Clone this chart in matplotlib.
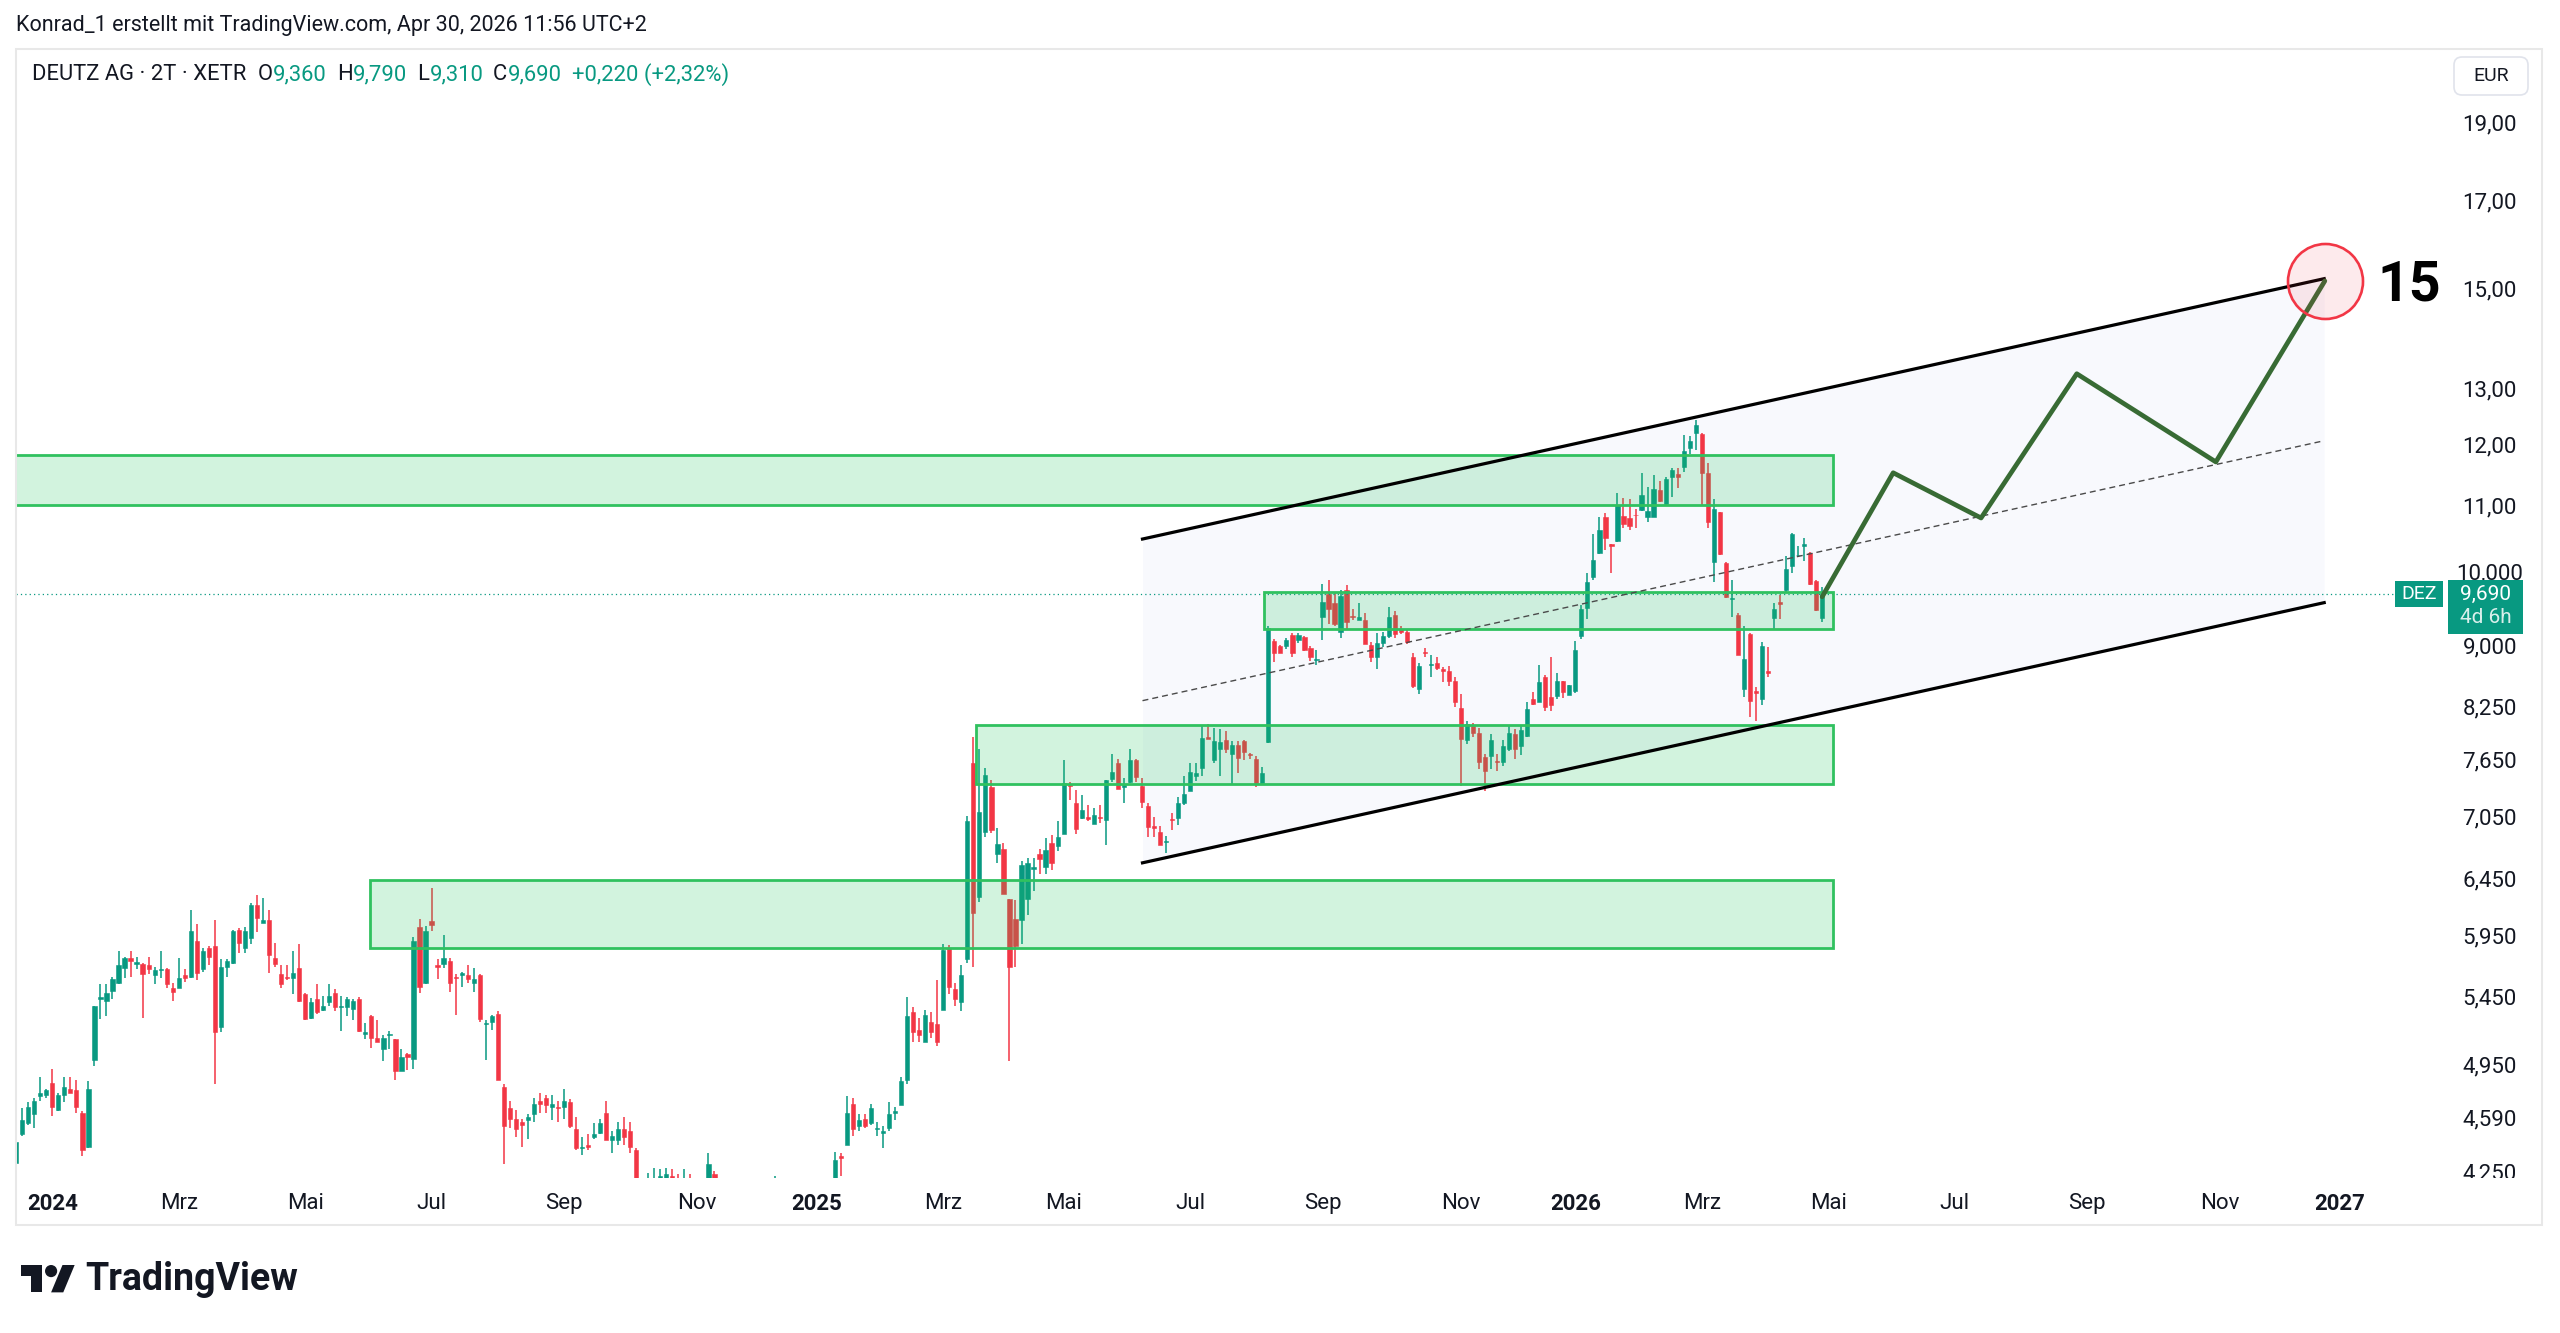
import numpy as np
import pandas as pd
import matplotlib
matplotlib.use("Agg")
import matplotlib.pyplot as plt
from matplotlib.patches import Rectangle, Polygon, Circle, FancyBboxPatch
from matplotlib.transforms import (blended_transform_factory, ScaledTranslation,
                                   IdentityTransform, Bbox, TransformedBbox)
from matplotlib.ticker import NullLocator

plt.rcParams['font.family'] = ['Roboto', 'DejaVu Sans']

UP = '#089981'
DOWN = '#F23645'
INK = '#131722'

# DEUTZ AG, 2-day candles. x = bar number, bar 0 = first bar of 2024
first_bar = -6
opens = [
    4.30, 4.48, 4.55, 4.61, 4.73, 4.74, 4.82, 4.64, 4.74, 4.78,
    4.77, 4.62, 4.40, 4.98, 5.43, 5.42, 5.50, 5.56, 5.68, 5.76,
    5.71, 5.71, 5.70, 5.62, 5.66, 5.67, 5.52, 5.52, 5.62, 5.61,
    5.90, 5.67, 5.84, 5.86, 5.22, 5.69, 5.72, 6.00, 5.84, 5.93,
    6.21, 6.06, 6.08, 5.76, 5.63, 5.61, 5.60, 5.68, 5.47, 5.29,
    5.43, 5.35, 5.41, 5.48, 5.37, 5.37, 5.36, 5.43, 5.17, 5.30,
    5.14, 5.06, 5.16, 5.13, 4.90, 5.02, 4.99, 6.02, 5.56, 6.07,
    5.70, 5.71, 5.74, 5.61, 5.62, 5.62, 5.56, 5.62, 5.24, 5.26,
    5.32, 4.79, 4.65, 4.58, 4.56, 4.57, 4.61, 4.70, 4.72, 4.66,
    4.66, 4.66, 4.69, 4.51, 4.39, 4.41, 4.46, 4.49, 4.62, 4.44,
    4.44, 4.51, 4.50, 4.38, 4.05, 3.98, 4.10, 4.12, 4.14, 4.22,
    4.18, 4.10, 4.21, 4.14, 4.08, 4.05, 4.23, 4.15, 4.05, 3.98,
    3.92, 3.95, 3.88, 3.93, 4.02, 3.97, 4.08, 4.12, 4.02, 3.96,
    3.90, 3.94, 3.91, 3.97, 4.05, 4.01,
    4.15, 4.34, 4.41, 4.68, 4.53, 4.58, 4.55, 4.51, 4.49, 4.52,
    4.62, 4.67, 4.84, 5.33, 5.20, 5.11, 5.26, 5.24, 5.35, 5.84,
    5.51, 5.41, 5.75, 7.61, 6.29, 6.90, 7.36, 6.68, 6.73, 6.27,
    6.09, 6.08, 6.27, 6.54, 6.68, 6.56, 6.79, 6.76, 6.88, 7.38,
    7.19, 7.04, 7.05, 6.98, 7.05, 7.02, 7.44, 7.61, 7.35, 7.41,
    7.64, 7.37, 7.16, 6.96, 6.90, 6.80, 7.03, 7.04, 7.19, 7.31,
    7.47, 7.56, 7.90, 7.64, 7.76, 7.86, 7.71, 7.81, 7.85, 7.71,
    7.65, 7.40, 7.84,
    9.06, 9.00, 8.99, 9.14, 9.07, 9.11, 8.97, 8.82, 9.38, 9.69,
    9.56, 9.18, 9.75, 9.39, 9.34, 9.34, 9.01, 8.86, 9.03, 9.12,
    9.40, 9.22, 9.18, 8.86, 8.46, 8.92, 8.75, 8.78, 8.70, 8.68,
    8.56, 8.23, 7.86, 8.02, 7.94, 7.68, 7.69, 7.63, 7.62, 7.76,
    7.93, 7.80, 7.91, 8.34, 8.31, 8.61, 8.36, 8.37, 8.56, 8.39,
    8.43, 9.12, 9.50, 9.93,
    10.28, 10.81, 10.41, 10.45, 10.83, 10.80, 10.85, 10.93, 10.82, 10.82,
    11.24, 11.01, 11.45, 11.50, 11.62, 11.93, 12.19, 12.18, 11.52, 10.14,
    10.89, 10.13, 9.62, 9.40, 8.46, 9.15, 8.43, 8.34, 8.68, 9.36,
    9.58, 9.74, 10.09, 10.24, 10.37, 10.27, 9.87, 9.36,
]
highs = [
    4.46, 4.65, 4.69, 4.72, 4.86, 4.78, 4.92, 4.75, 4.86, 4.86,
    4.84, 4.63, 4.83, 5.38, 5.55, 5.55, 5.61, 5.82, 5.77, 5.82,
    5.77, 5.72, 5.77, 5.69, 5.82, 5.68, 5.56, 5.76, 5.67, 6.17,
    6.05, 5.84, 5.86, 6.08, 5.75, 5.75, 6.00, 6.01, 6.02, 6.23,
    6.30, 6.28, 6.17, 5.89, 5.70, 5.70, 5.82, 5.88, 5.48, 5.44,
    5.55, 5.46, 5.55, 5.51, 5.46, 5.45, 5.43, 5.45, 5.25, 5.31,
    5.27, 5.16, 5.19, 5.13, 5.06, 5.03, 5.94, 6.09, 6.03, 6.37,
    5.75, 5.95, 5.76, 5.63, 5.65, 5.70, 5.68, 5.63, 5.27, 5.31,
    5.34, 4.81, 4.70, 4.64, 4.58, 4.61, 4.72, 4.75, 4.74, 4.74,
    4.70, 4.78, 4.71, 4.59, 4.46, 4.48, 4.55, 4.58, 4.70, 4.50,
    4.56, 4.59, 4.56, 4.39, 4.15, 4.24, 4.27, 4.26, 4.27, 4.26,
    4.23, 4.26, 4.23, 4.19, 4.15, 4.36, 4.25, 4.18, 4.08, 4.02,
    4.00, 3.98, 3.97, 4.06, 4.05, 4.12, 4.22, 4.15, 4.05, 3.99,
    3.98, 3.97, 4.00, 4.09, 4.10, 4.18,
    4.37, 4.36, 4.73, 4.72, 4.61, 4.61, 4.68, 4.56, 4.53, 4.69,
    4.66, 4.86, 5.45, 5.37, 5.29, 5.35, 5.33, 5.58, 5.88, 5.87,
    5.56, 5.70, 7.06, 7.90, 7.76, 7.56, 7.43, 6.94, 6.79, 6.27,
    6.26, 6.62, 6.65, 6.65, 6.73, 6.84, 6.87, 7.01, 7.64, 7.41,
    7.32, 7.27, 7.17, 7.14, 7.17, 7.43, 7.71, 7.66, 7.45, 7.76,
    7.65, 7.45, 7.19, 7.05, 6.96, 6.86, 7.09, 7.25, 7.47, 7.61,
    7.61, 8.02, 8.05, 8.00, 7.99, 7.97, 7.85, 7.85, 7.87, 7.72,
    7.69, 7.57, 9.25,
    9.09, 9.01, 9.10, 9.17, 9.17, 9.12, 8.99, 8.94, 9.83, 9.88,
    9.70, 9.75, 9.81, 9.49, 9.56, 9.43, 9.05, 9.16, 9.18, 9.51,
    9.45, 9.26, 9.22, 8.90, 8.78, 8.97, 8.88, 8.85, 8.73, 8.74,
    8.61, 8.40, 8.08, 8.06, 8.00, 7.71, 7.93, 7.71, 7.86, 8.03,
    7.99, 8.02, 8.31, 8.42, 8.76, 8.63, 8.86, 8.66, 8.56, 8.51,
    9.06, 9.54, 9.98, 10.55,
    10.82, 10.88, 10.41, 11.20, 11.11, 11.10, 10.94, 11.51, 11.29, 11.49,
    11.38, 11.45, 11.60, 11.60, 12.16, 12.14, 12.43, 12.19, 11.69, 11.09,
    10.90, 10.14, 9.88, 9.43, 9.25, 9.17, 8.48, 9.05, 8.98, 9.57,
    9.68, 10.23, 10.57, 10.37, 10.50, 10.29, 9.88, 9.79,
]
lows = [
    4.22, 4.47, 4.54, 4.52, 4.70, 4.72, 4.60, 4.63, 4.69, 4.75,
    4.62, 4.34, 4.39, 4.94, 5.28, 5.30, 5.43, 5.55, 5.60, 5.61,
    5.67, 5.29, 5.63, 5.55, 5.60, 5.52, 5.42, 5.52, 5.57, 5.60,
    5.58, 5.65, 5.70, 4.81, 5.18, 5.61, 5.71, 5.80, 5.80, 5.88,
    5.98, 6.06, 5.64, 5.69, 5.52, 5.58, 5.47, 5.41, 5.27, 5.28,
    5.32, 5.34, 5.38, 5.34, 5.19, 5.30, 5.27, 5.18, 5.13, 5.07,
    5.11, 4.97, 5.06, 4.84, 4.90, 4.91, 4.92, 5.48, 5.55, 5.99,
    5.59, 5.68, 5.49, 5.31, 5.53, 5.56, 5.49, 5.26, 4.98, 5.20,
    4.84, 4.29, 4.52, 4.46, 4.40, 4.45, 4.56, 4.62, 4.62, 4.57,
    4.56, 4.58, 4.52, 4.38, 4.35, 4.38, 4.45, 4.48, 4.44, 4.36,
    4.41, 4.41, 4.36, 4.00, 3.95, 3.95, 4.05, 4.08, 4.10, 4.10,
    4.08, 4.06, 4.10, 4.05, 4.00, 4.02, 4.10, 4.00, 3.92, 3.86,
    3.88, 3.84, 3.85, 3.90, 3.93, 3.95, 4.05, 3.98, 3.92, 3.85,
    3.86, 3.87, 3.89, 3.95, 3.97, 3.99,
    4.12, 4.22, 4.41, 4.47, 4.50, 4.52, 4.54, 4.47, 4.39, 4.50,
    4.57, 4.67, 4.81, 5.11, 5.11, 5.11, 5.14, 5.08, 5.35, 5.47,
    5.38, 5.34, 5.72, 5.69, 6.24, 6.85, 6.89, 6.60, 6.31, 4.97,
    5.69, 5.88, 6.13, 6.34, 6.50, 6.50, 6.53, 6.71, 6.88, 7.22,
    6.88, 7.03, 7.01, 6.98, 6.99, 6.77, 7.41, 7.33, 7.19, 7.40,
    7.41, 7.14, 6.85, 6.85, 6.77, 6.69, 6.92, 6.97, 7.17, 7.31,
    7.42, 7.47, 7.88, 7.61, 7.47, 7.72, 7.38, 7.50, 7.64, 7.65,
    7.36, 7.39, 7.83,
    8.79, 8.90, 8.96, 8.86, 9.04, 8.93, 8.81, 8.75, 9.07, 9.28,
    9.25, 9.10, 9.22, 9.34, 9.34, 9.02, 8.79, 8.71, 8.98, 9.10,
    9.10, 9.15, 9.02, 8.47, 8.40, 8.85, 8.60, 8.69, 8.55, 8.50,
    8.25, 7.37, 7.82, 7.90, 7.55, 7.31, 7.55, 7.53, 7.58, 7.74,
    7.66, 7.70, 7.90, 8.27, 8.30, 8.20, 8.20, 8.34, 8.35, 8.39,
    8.41, 9.08, 9.35, 9.88,
    10.26, 10.32, 9.99, 10.43, 10.64, 10.62, 10.65, 10.91, 10.74, 10.82,
    11.05, 10.98, 11.13, 11.28, 11.53, 11.84, 11.90, 11.00, 10.64, 9.86,
    10.25, 9.64, 9.37, 8.88, 8.36, 8.13, 8.08, 8.27, 8.60, 9.22,
    9.35, 9.71, 9.99, 10.23, 10.16, 9.82, 9.46, 9.31,
]
closes = [
    4.43, 4.57, 4.66, 4.70, 4.75, 4.77, 4.66, 4.74, 4.79, 4.75,
    4.66, 4.38, 4.78, 5.38, 5.45, 5.48, 5.59, 5.70, 5.76, 5.74,
    5.73, 5.63, 5.67, 5.66, 5.67, 5.55, 5.49, 5.60, 5.60, 5.99,
    5.64, 5.82, 5.77, 5.18, 5.69, 5.74, 5.99, 5.89, 5.99, 6.21,
    6.10, 6.08, 5.79, 5.71, 5.55, 5.60, 5.64, 5.42, 5.28, 5.41,
    5.33, 5.38, 5.46, 5.37, 5.38, 5.43, 5.42, 5.19, 5.18, 5.14,
    5.11, 5.14, 5.17, 4.90, 5.00, 5.00, 5.90, 5.53, 5.99, 6.04,
    5.69, 5.76, 5.56, 5.60, 5.64, 5.59, 5.59, 5.28, 5.25, 5.30,
    4.84, 4.53, 4.58, 4.51, 4.54, 4.59, 4.68, 4.68, 4.67, 4.68,
    4.65, 4.70, 4.53, 4.39, 4.40, 4.40, 4.48, 4.55, 4.44, 4.47,
    4.51, 4.46, 4.40, 4.05, 4.00, 4.12, 4.18, 4.22, 4.23, 4.15,
    4.12, 4.18, 4.14, 4.10, 4.04, 4.29, 4.15, 4.05, 3.98, 3.92,
    3.95, 3.88, 3.93, 4.02, 3.97, 4.08, 4.12, 4.02, 3.96, 3.90,
    3.94, 3.91, 3.97, 4.05, 4.01, 4.14,
    4.32, 4.33, 4.62, 4.51, 4.57, 4.53, 4.65, 4.52, 4.50, 4.61,
    4.63, 4.83, 5.30, 5.18, 5.16, 5.31, 5.18, 5.11, 5.83, 5.53,
    5.43, 5.62, 7.01, 6.14, 7.10, 7.48, 6.92, 6.78, 6.31, 5.69,
    5.86, 6.58, 6.60, 6.56, 6.64, 6.72, 6.60, 6.85, 7.40, 7.37,
    6.93, 7.12, 7.03, 7.07, 7.04, 7.43, 7.51, 7.33, 7.38, 7.64,
    7.46, 7.20, 6.95, 6.94, 6.77, 6.81, 7.02, 7.19, 7.28, 7.51,
    7.50, 7.89, 7.88, 7.85, 7.84, 7.76, 7.81, 7.67, 7.73, 7.70,
    7.40, 7.50, 9.23,
    8.90, 8.91, 9.07, 8.91, 9.14, 8.94, 8.85, 8.83, 9.58, 9.48,
    9.28, 9.66, 9.31, 9.37, 9.37, 9.02, 8.86, 9.03, 9.12, 9.38,
    9.15, 9.18, 9.05, 8.50, 8.74, 8.90, 8.77, 8.72, 8.68, 8.56,
    8.31, 7.88, 8.05, 7.94, 7.62, 7.53, 7.86, 7.62, 7.80, 7.95,
    7.76, 7.98, 8.22, 8.28, 8.54, 8.24, 8.27, 8.56, 8.42, 8.51,
    8.94, 9.48, 9.86, 10.17,
    10.62, 10.50, 10.37, 11.00, 10.71, 10.67, 10.84, 11.16, 10.91, 11.26,
    11.06, 11.42, 11.56, 11.45, 11.89, 12.06, 12.33, 11.51, 10.74, 10.94,
    10.26, 9.65, 9.63, 8.88, 8.83, 8.32, 8.41, 9.00, 8.66, 9.49,
    9.55, 10.04, 10.56, 10.25, 10.40, 9.83, 9.47, 9.69,
]

# drawings on the chart (bar number / price)
zone_lo = [11.00, 9.21, 7.39, 5.84]
zone_hi = [11.82, 9.72, 8.04, 6.44]
zone_start = [-30, 201.2, 153.4, 52.7]
zone_end = 295.8

channel_x = [181.1, 377.4]
channel_top = [10.48, 15.20]
channel_bot = [6.60, 9.57]
channel_mid = [8.32, 12.06]

proj_x = [294, 305.8, 320.4, 336.3, 359.4, 377.5]
proj_y = [9.65, 11.52, 10.80, 13.27, 11.70, 15.15]
target_label = '15'

last_price = 9.69
price_ticks = [19, 17, 15, 13, 12, 11, 10, 9, 8.25, 7.65, 7.05,
               6.45, 5.95, 5.45, 4.95, 4.59, 4.25]
price_labels = ['19,00', '17,00', '15,00', '13,00', '12,00', '11,00', '10,000',
                '9,000', '8,250', '7,650', '7,050', '6,450', '5,950', '5,450',
                '4,950', '4,590', '4,250']

month_names = {3: 'Mrz', 5: 'Mai', 7: 'Jul', 9: 'Sep', 11: 'Nov'}
holidays = ['2024-01-01', '2024-03-29', '2024-04-01', '2024-05-01', '2024-12-24',
            '2024-12-25', '2024-12-26', '2024-12-31', '2025-01-01', '2025-04-18',
            '2025-04-21', '2025-05-01', '2025-12-24', '2025-12-25', '2025-12-26',
            '2025-12-31', '2026-01-01', '2026-04-03', '2026-04-06', '2026-05-01',
            '2026-12-24', '2026-12-25', '2026-12-31', '2027-01-01']

# trading calendar -> 2-day bar numbers for the month labels
sessions = pd.bdate_range('2024-01-01', '2027-01-31')
sessions = sessions[~sessions.isin(pd.to_datetime(holidays))]
cal = pd.DataFrame({'date': sessions, 'bar': np.arange(len(sessions)) // 2})
firsts = cal.groupby([cal.date.dt.year, cal.date.dt.month])['bar'].first()
tick_pos, tick_lab, tick_bold = [], [], []
for (yr, mo), b in firsts.items():
    if mo == 1:
        tick_pos.append(b); tick_lab.append(str(yr)); tick_bold.append(True)
    elif mo in month_names:
        tick_pos.append(b); tick_lab.append(month_names[mo]); tick_bold.append(False)

W, H = 2560, 1333
fig = plt.figure(figsize=(W / 100, H / 100), dpi=100, facecolor='white')


def fx(px):
    return px / W


def fy(py):
    return 1 - py / H


ax = fig.add_axes([fx(16), fy(1178), fx(2444) - fx(16), fy(49) - fy(1178)])
ax.set_facecolor('white')
ax.set_yscale('log')

# candles
o = np.array(opens); h = np.array(highs); l = np.array(lows); c = np.array(closes)
x = np.arange(len(o)) + first_bar
cols = np.where(c >= o, UP, DOWN)
ax.vlines(x, l, h, colors=cols, lw=1.1, zorder=2)
ax.bar(x, np.maximum(np.abs(c - o), 0.01), bottom=np.minimum(o, c), width=0.7,
       color=cols, edgecolor=cols, linewidth=0.4, zorder=2.1)

# channel
ax.fill_between(channel_x, channel_bot, channel_top, color='#4a5bd6', alpha=0.035,
                lw=0, zorder=1)
ax.plot(channel_x, channel_top, color='black', lw=2.3, zorder=4)
ax.plot(channel_x, channel_bot, color='black', lw=2.3, zorder=4)
ax.plot(channel_x, channel_mid, color='#4a4a4a', lw=1.0, ls=(0, (4.3, 2.9)), zorder=4)

# zones
for lo, hi, x0 in zip(zone_lo, zone_hi, zone_start):
    ax.add_patch(Rectangle((x0, lo), zone_end - x0, hi - lo,
                           fc=(0.133, 0.773, 0.369, 0.2), ec='#30c15f', lw=2.0, zorder=3))

# last price line
ax.axhline(last_price, color=UP, lw=0.9, ls=(0, (1, 2.5)), zorder=2.5)

# projection + target
ax.plot(proj_x, proj_y, color='#386b34', lw=3.4, zorder=5, solid_joinstyle='round',
        solid_capstyle='round')
ax.plot([proj_x[-1]], [proj_y[-1]], marker='o', ms=54, mfc=(0.949, 0.212, 0.271, 0.1),
        mec='#F23645', mew=1.9, zorder=6)
ax.annotate(target_label, xy=(proj_x[-1], proj_y[-1]), xytext=(61, -3),
            textcoords='offset points', ha='center', va='center', fontsize=40,
            fontweight='bold', color='black', zorder=7)

# axes
ax.set_xlim(-6.03, 397.3)
ax.set_ylim(4.208, 21.10)
ax.set_yticks(price_ticks, price_labels)
ax.yaxis.set_minor_locator(NullLocator())
ax.yaxis.tick_right()
ax.tick_params(axis='y', length=0, pad=33, labelsize=16, labelcolor=INK)
plt.setp(ax.get_yticklabels(), ha='center')
clip = TransformedBbox(Bbox([[fx(2444), fy(1178)], [1, 1]]), fig.transFigure)
for t in ax.get_yticklabels():
    t.set_clip_box(clip)
    t.set_clip_on(True)
ax.set_xticks(tick_pos, tick_lab)
ax.tick_params(axis='x', length=0, pad=11, labelsize=16, labelcolor=INK)
for t, b in zip(ax.get_xticklabels(), tick_bold):
    if b:
        t.set_fontweight('bold')
for s in ax.spines.values():
    s.set_visible(False)

# price tags on the right scale
anchor = blended_transform_factory(ax.transAxes, ax.transData)
tag = IdentityTransform() + ScaledTranslation(1.0, last_price, anchor)
fig.add_artist(Rectangle((-49, -13), 48, 26, transform=tag, fc=UP, ec='none'))
fig.add_artist(Rectangle((4, -40), 75, 54, transform=tag, fc=UP, ec='none'))
fig.text(-25, 0, 'DEZ', transform=tag, ha='center', va='center', color='white', fontsize=14)
fig.text(41.5, 0, '9,690', transform=tag, ha='center', va='center', color='white', fontsize=15)
fig.text(41.5, -24, '4d 6h', transform=tag, ha='center', va='center',
         color=(1, 1, 1, 0.85), fontsize=15)

# pane frame, header, legend
fig.add_artist(Rectangle((16, H - 1225), 2526, 1176, transform=IdentityTransform(),
                         fill=False, ec='#e8e8e8', lw=1.5))
fig.add_artist(FancyBboxPatch((2454, H - 95), 74, 38, boxstyle='round,pad=0,rounding_size=8',
                              transform=IdentityTransform(), fc='white', ec='#e0e3eb', lw=1.2))
fig.text(fx(2491), fy(76), 'EUR', ha='center', va='center', fontsize=14, color=INK)
fig.text(fx(16), fy(26), 'Konrad_1 erstellt mit TradingView.com, Apr 30, 2026 11:56 UTC+2',
         ha='left', va='center', fontsize=15.5, color=INK)

legend = [('DEUTZ AG · 2T · XETR', INK, 0), ('O', INK, 8), ('9,360', UP, 0.5),
          ('H', INK, 7), ('9,790', UP, 0.5), ('L', INK, 7), ('9,310', UP, 0.5),
          ('C', INK, 7), ('9,690', UP, 0.5), ('+0,220 (+2,32%)', UP, 7)]
prev = fig.text(fx(32), fy(75), legend[0][0], ha='left', va='center', fontsize=15.8,
                color=legend[0][1])
for txt, col, gap in legend[1:]:
    prev = ax.annotate(txt, xy=(1, 0.5), xycoords=prev, xytext=(gap, 0),
                       textcoords='offset points', ha='left', va='center',
                       fontsize=15.8, color=col, annotation_clip=False)

# TradingView logo
def lx(v):
    return 20.7 + v * 1.52


def ly(v):
    return H - (1265 + (v - 4) * 1.52)


fig.add_artist(Polygon([(lx(14), ly(22)), (lx(7), ly(22)), (lx(7), ly(11)), (lx(0), ly(11)),
                        (lx(0), ly(4)), (lx(14), ly(4))], closed=True, fc=INK, ec='none',
                       transform=IdentityTransform()))
fig.add_artist(Circle((lx(20), ly(8)), 4 * 1.52, fc=INK, ec='none', transform=IdentityTransform()))
fig.add_artist(Polygon([(lx(28), ly(22)), (lx(20), ly(22)), (lx(27.5), ly(4)), (lx(35.5), ly(4))],
                       closed=True, fc=INK, ec='none', transform=IdentityTransform()))
fig.text(fx(85), fy(1279), 'TradingView', ha='left', va='center', fontsize=27,
         fontweight='bold', color=INK)

fig.savefig('out.png', dpi=100, facecolor='white')
